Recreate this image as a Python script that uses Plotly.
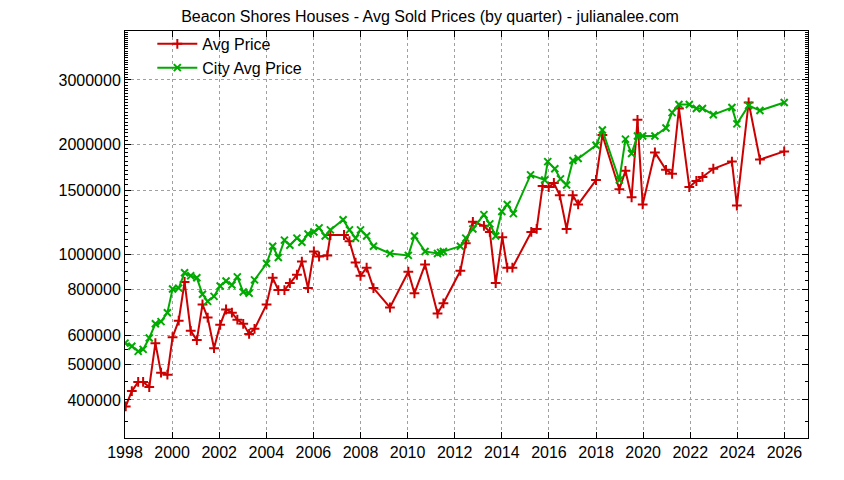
import plotly.graph_objects as go

avg_years = [1998.03,1998.29,1998.56,1998.77,1999.03,1999.29,1999.53,1999.80,2000.02,2000.28,2000.53,2000.79,2001.05,2001.29,2001.51,2001.78,2002.04,2002.29,2002.54,2002.77,2003.02,2003.27,2003.50,2004.01,2004.27,2004.51,2004.77,2005.00,2005.30,2005.51,2005.77,2006.02,2006.24,2006.59,2006.72,2007.30,2007.53,2007.79,2008.00,2008.26,2008.55,2009.25,2010.03,2010.29,2010.74,2011.27,2011.52,2012.24,2012.47,2012.77,2013.24,2013.49,2013.74,2014.02,2014.23,2014.45,2015.25,2015.48,2015.73,2015.99,2016.21,2016.46,2016.75,2017.01,2017.24,2018.00,2018.27,2018.99,2019.25,2019.51,2019.76,2019.98,2020.50,2020.97,2021.23,2021.52,2021.96,2022.26,2022.52,2022.98,2023.77,2023.98,2024.48,2024.96,2025.99]
avg_price = [384000,423000,448000,448000,434000,572000,475000,469000,594000,659000,841000,618000,583000,730000,672000,554000,642000,707000,693000,663000,646000,606000,626000,730000,863000,799000,799000,835000,880000,956000,809000,1019000,987000,994000,1130000,1130000,1087000,950000,874000,920000,809000,716000,897000,783000,938000,689000,735000,902000,1073000,1228000,1197000,1152000,835000,1115000,920000,920000,1152000,1174000,1538000,1528000,1568000,1451000,1174000,1451000,1370000,1598000,2121000,1508000,1693000,1433000,2334000,1370000,1901000,1704000,1661000,2506000,1528000,1588000,1629000,1715000,1794000,1361000,2604000,1817000,1913000]

city_years = [1998.00,1998.29,1998.56,1998.77,1999.03,1999.29,1999.53,1999.80,2000.02,2000.28,2000.53,2000.79,2001.05,2001.29,2001.51,2001.78,2002.04,2002.29,2002.54,2002.77,2003.02,2003.27,2003.50,2004.01,2004.27,2004.51,2004.77,2005.00,2005.30,2005.51,2005.77,2006.02,2006.24,2006.50,2006.72,2007.26,2007.53,2007.79,2008.00,2008.26,2008.55,2009.25,2010.03,2010.29,2010.74,2011.27,2011.40,2011.52,2012.24,2012.47,2012.77,2013.24,2013.49,2013.74,2014.00,2014.23,2014.49,2015.22,2015.82,2015.95,2016.25,2016.49,2016.75,2017.02,2017.24,2018.00,2018.27,2018.99,2019.25,2019.51,2019.76,2019.98,2020.50,2020.97,2021.23,2021.52,2021.96,2022.26,2022.52,2022.98,2023.77,2023.98,2024.48,2024.96,2025.99]
city_price = [572000,561000,543000,550000,591000,646000,655000,693000,804000,809000,891000,874000,863000,778000,744000,768000,820000,846000,825000,868000,789000,783000,852000,944000,1053000,981000,1094000,1060000,1108000,1080000,1137000,1152000,1182000,1123000,1167000,1244000,1167000,1108000,1167000,1123000,1053000,1006000,994000,1123000,1019000,1006000,1013000,1019000,1053000,1108000,1174000,1285000,1212000,1123000,1310000,1370000,1293000,1650000,1598000,1794000,1715000,1609000,1548000,1806000,1829000,1988000,2189000,1598000,2067000,1889000,2107000,2107000,2107000,2218000,2442000,2570000,2570000,2506000,2506000,2411000,2522000,2275000,2555000,2474000,2604000]

x_ticks = list(range(1998, 2027, 2))
y_ticks = [400000, 500000, 600000, 800000, 1000000, 1500000, 2000000, 3000000]

FONT = "Liberation Sans, Arial"

fig = go.Figure()
fig.add_trace(go.Scatter(x=avg_years, y=avg_price, name="Avg Price", mode="lines+markers",
    line=dict(color="#cc0000", width=2),
    marker=dict(symbol="cross-thin", size=7, line=dict(color="#cc0000", width=2), color="#cc0000")))
fig.add_trace(go.Scatter(x=city_years, y=city_price, name="City Avg Price", mode="lines+markers",
    line=dict(color="#00aa00", width=2),
    marker=dict(symbol="x-thin", size=7, line=dict(color="#00aa00", width=2), color="#00aa00")))

axis_common = dict(showline=True, linecolor="black", linewidth=1, mirror="ticks",
    ticks="inside", ticklen=6, tickcolor="black", showgrid=True, automargin=False,
    gridcolor="#a0a0a0", griddash="dot", gridwidth=1, zeroline=False,
    tickfont=dict(family=FONT, size=16, color="black"))

fig.update_xaxes(range=[1998, 2027], tickvals=x_ticks, ticktext=[str(v) for v in x_ticks], **axis_common)
fig.update_yaxes(type="log", range=[5.498, 6.611], tickvals=y_ticks, ticktext=[str(v) for v in y_ticks],
    minor=dict(ticks="inside", ticklen=3, tickcolor="black", showgrid=False), **axis_common)

fig.update_layout(
    width=844, height=480, plot_bgcolor="white", paper_bgcolor="white",
    margin=dict(l=117, r=44, t=23, b=50, pad=0),
    title=dict(text="Beacon Shores Houses - Avg Sold Prices (by quarter) - julianalee.com",
               x=0.5, xanchor="center", y=0.995, yanchor="top",
               font=dict(family=FONT, size=16, color="black")),
    legend=dict(x=0.04, y=1.01, xanchor="left", yanchor="top", bgcolor="rgba(0,0,0,0)",
                font=dict(family=FONT, size=16, color="black"),
                tracegroupgap=0, itemwidth=40),
    showlegend=True,
)
fig.write_html("out.html")
